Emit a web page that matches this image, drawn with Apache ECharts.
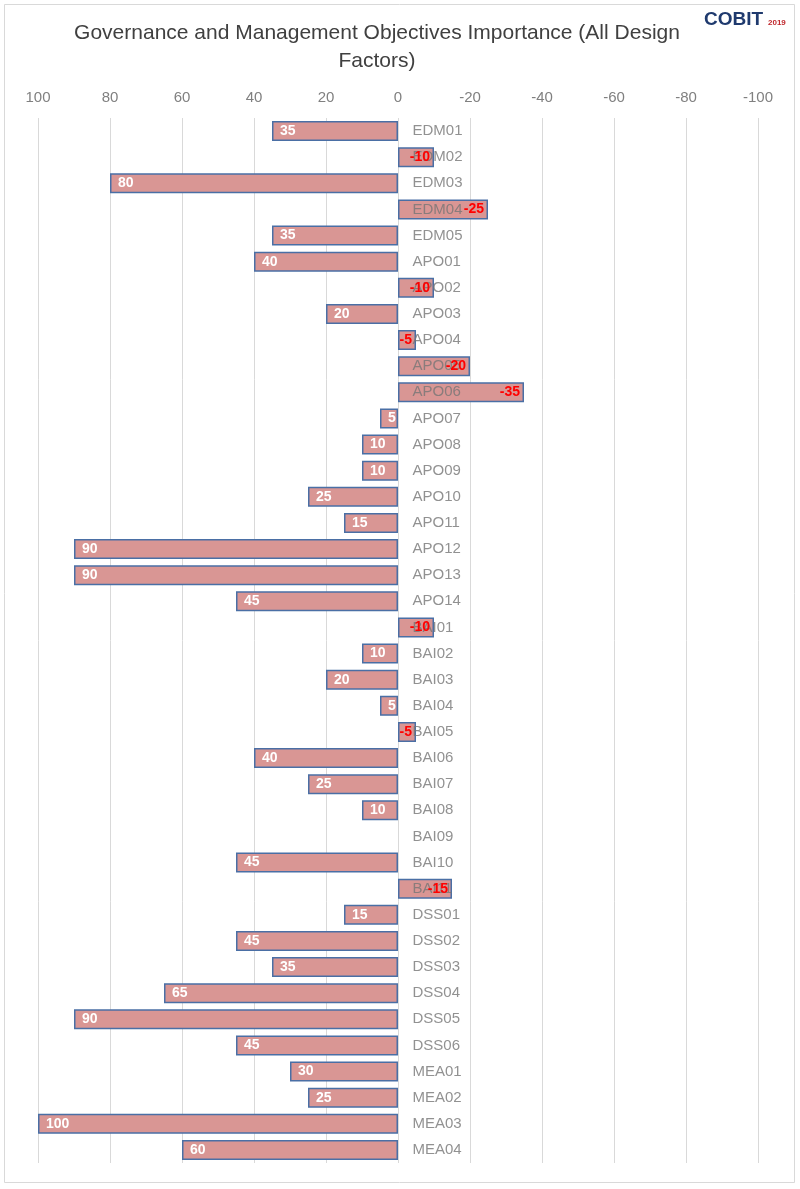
<!DOCTYPE html>
<html>
<head>
<meta charset="utf-8">
<script src="https://cdn.jsdelivr.net/npm/echarts@6/dist/echarts.min.js"></script>
<style>
html,body{margin:0;padding:0;background:#fff;}
#chart{width:800px;height:1189px;}
</style>
</head>
<body>
<div id="chart"></div>
<script>
var categories = ["EDM01","EDM02","EDM03","EDM04","EDM05",
  "APO01","APO02","APO03","APO04","APO05","APO06","APO07","APO08","APO09","APO10","APO11","APO12","APO13","APO14",
  "BAI01","BAI02","BAI03","BAI04","BAI05","BAI06","BAI07","BAI08","BAI09","BAI10","BAI11",
  "DSS01","DSS02","DSS03","DSS04","DSS05","DSS06",
  "MEA01","MEA02","MEA03","MEA04"];
var importance = [35,-10,80,-25,35,
  40,-10,20,-5,-20,-35,5,10,10,25,15,90,90,45,
  -10,10,20,5,-5,40,25,10,0,45,-15,
  15,45,35,65,90,45,
  30,25,100,60];
var axisTicks = {min:-100, max:100, step:20};
var titleText = "Governance and Management Objectives Importance (All Design\nFactors)";

var FONT = "'Liberation Sans', Arial, sans-serif";

var barItems = importance.map(function(v){
  if (v === 0) return {value: v, itemStyle: {borderWidth: 0, color: 'rgba(0,0,0,0)'}};
  return {value: v};
});
var labelItems = importance.map(function(v){
  if (v === 0) return {value: v, label: {show: false}};
  if (v > 0) return {value: v, label: {show: true, position: 'insideLeft', distance: 8, color: '#ffffff'}};
  return {value: v, label: {show: true, position: 'insideRight', distance: 4, color: '#ff0000'}};
});
var catLabelPoints = categories.map(function(c){ return [0, c]; });

var chart = echarts.init(document.getElementById('chart'), null, {renderer: 'canvas'});
chart.setOption({
  animation: false,
  backgroundColor: '#ffffff',
  title: {
    text: titleText,
    left: 372,
    top: 14,
    textAlign: 'center',
    textStyle: {fontFamily: FONT, fontSize: 21, fontWeight: 'normal', color: '#404040', lineHeight: 28}
  },
  graphic: [
    {type: 'rect', shape: {x: 4.5, y: 4.5, width: 790, height: 1178}, style: {fill: 'none', stroke: '#d9d9d9', lineWidth: 1}, silent: true},
    {type: 'text', left: 704, top: 10, style: {text: 'COBIT', fontFamily: FONT, fontSize: 19, fontWeight: 'bold', fill: '#1f3a6e'}},
    {type: 'text', left: 768, top: 19, style: {text: '2019', fontFamily: FONT, fontSize: 8, fontWeight: 'bold', fill: '#c0282d'}}
  ],
  grid: {left: 38, right: 42, top: 118, bottom: 26, containLabel: false, outerBoundsMode: 'none'},
  xAxis: {
    type: 'value',
    position: 'top',
    inverse: true,
    min: axisTicks.min,
    max: axisTicks.max,
    interval: axisTicks.step,
    axisLine: {show: false},
    axisTick: {show: false},
    splitLine: {show: true, lineStyle: {color: '#d9d9d9', width: 1}},
    axisLabel: {color: '#808080', fontFamily: FONT, fontSize: 15, margin: 13}
  },
  yAxis: {
    type: 'category',
    data: categories,
    inverse: true,
    axisLine: {show: false},
    axisTick: {show: false},
    splitLine: {show: false},
    axisLabel: {show: false}
  },
  series: [
    {
      type: 'bar',
      data: barItems,
      z: 2,
      barCategoryGap: '23%',
      itemStyle: {color: '#d99694', borderColor: '#4a6fa5', borderWidth: 1.5},
      label: {show: false}
    },
    {
      type: 'scatter',
      data: catLabelPoints,
      z: 3,
      symbolSize: 1,
      itemStyle: {color: 'rgba(0,0,0,0)'},
      label: {
        show: true, position: 'right', distance: 14,
        formatter: function(p){ return p.value[1]; },
        color: '#767676', fontFamily: FONT, fontSize: 15
      },
      silent: true
    },
    {
      type: 'bar',
      data: labelItems,
      z: 4,
      barGap: '-100%',
      barCategoryGap: '23%',
      itemStyle: {color: 'rgba(0,0,0,0)', borderWidth: 0},
      label: {fontFamily: FONT, fontSize: 14, fontWeight: 'bold'},
      silent: true
    }
  ]
});
</script>
</body>
</html>
